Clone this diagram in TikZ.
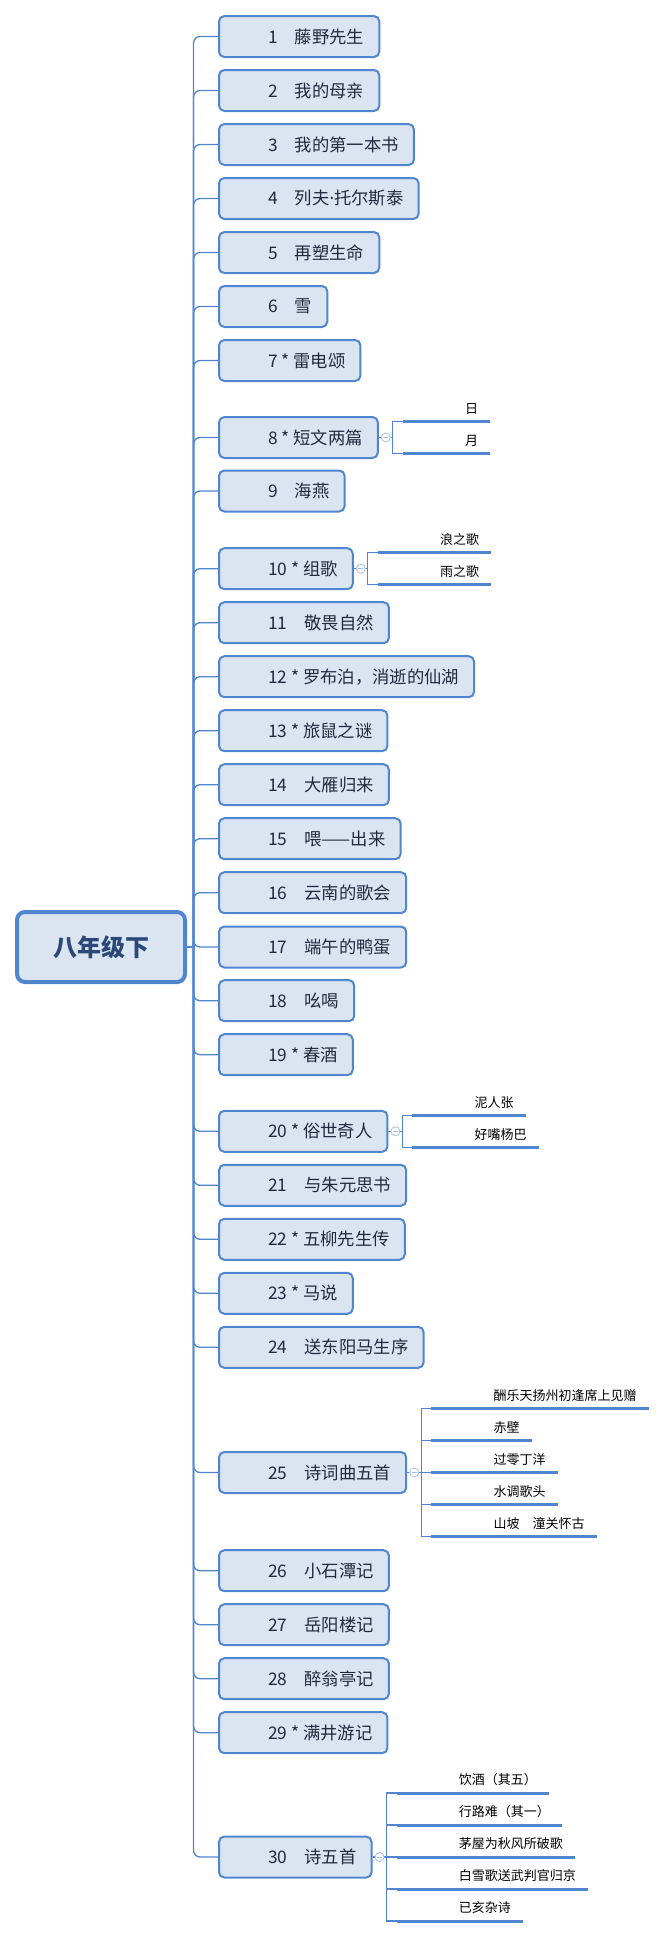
\documentclass[tikz,border=0pt]{standalone}
\usepackage{fontspec}
\setmainfont{Noto Sans CJK SC}
\newfontfamily\latinfont{Noto Sans}

\definecolor{topicline}{RGB}{79,134,207}
\definecolor{topicfill}{RGB}{219,229,242}
\definecolor{topictext}{RGB}{33,43,61}
\definecolor{roottext}{RGB}{42,72,120}
\definecolor{foldline}{RGB}{165,192,230}

\tikzset{
  root/.style={draw=topicline, fill=topicfill, line width=3pt, rounded corners=6pt,
    minimum width=126pt, minimum height=52.5pt, text=roottext,
    font=\fontsize{18}{20}\selectfont\bfseries},
  topic/.style={draw=topicline, fill=topicfill, line width=1.5pt, rounded corners=4pt,
    minimum height=30.75pt, inner xsep=0pt, inner ysep=0pt, anchor=west, text=topictext,
    font=\fontsize{13}{15}\selectfont,
    execute at begin node=\hspace*{36.75pt}, execute at end node=\hspace*{11.25pt}},
  leaf/.style={anchor=south west, inner xsep=0pt, inner ysep=6pt, text depth=0pt,
    font=\fontsize{9.75}{11}\selectfont,
    execute at begin node=\hspace*{46.5pt}, execute at end node=\hspace*{9pt}},
  branch/.style={draw=topicline, line width=1pt, rounded corners=5pt},
  twig/.style={draw=topicline, line width=0.8pt},
  uline/.style={draw=topicline, line width=2.25pt},
  fold/.style={circle, draw=foldline, fill=white, line width=0.6pt, minimum size=6.75pt, inner sep=0pt,
    path picture={\draw[foldline, line width=0.6pt]
      ([xshift=-2pt]path picture bounding box.center) -- ([xshift=2pt]path picture bounding box.center);}}
}

\begin{document}
\begin{tikzpicture}[x=0.75pt, y=-0.75pt]
\useasboundingbox (0,0) rectangle (663,1939);

% root and spine
\node[root] (root) at (101,947) {八年级下};
\coordinate (hub) at (193.5,947);
\draw[branch] (root.east) -- (hub);

% lessons
\foreach \i/\y/\lbl in {
  1/36.5/1\quad 藤野先生, 2/90.5/2\quad 我的母亲, 3/144.5/3\quad 我的第一本书,
  4/198.5/4\quad 列夫{\latinfont ·}托尔斯泰, 5/252.5/5\quad 再塑生命, 6/306.5/6\quad 雪,
  7/360.5/7 * 雷电颂, 8/437.5/8 * 短文两篇, 9/491/9\quad 海燕,
  10/568.7/10 * 组歌, 11/622.7/11\quad 敬畏自然, 12/676.7/12 * 罗布泊，消逝的仙湖,
  13/730.7/13 * 旅鼠之谜, 14/784.7/14\quad 大雁归来, 15/838.7/15\quad 喂——出来,
  16/892.7/16\quad 云南的歌会, 17/947/17\quad 端午的鸭蛋, 18/1000.7/18\quad 吆喝,
  19/1054.7/19 * 春酒, 20/1131.3/20 * 俗世奇人, 21/1185.3/21\quad 与朱元思书,
  22/1239.3/22 * 五柳先生传, 23/1293.3/23 * 马说, 24/1347.3/24\quad 送东阳马生序,
  25/1472.5/25\quad 诗词曲五首, 26/1570.7/26\quad 小石潭记, 27/1624.7/27\quad 岳阳楼记,
  28/1678.7/28\quad 醉翁亭记, 29/1732.7/29 * 满井游记, 30/1857/30\quad 诗五首} {
  \node[topic] (c\i) at (218,\y) {\lbl};
  \draw[branch] (hub) |- (c\i.west);
}

% sub topics
\foreach \lbl [count=\j] in {日, 月} {
  \node[leaf] (s8-\j) at ([shift={({24},{32*\j-48})}]c8.east) {\lbl};
  \draw[twig] (c8.east) -- ++(14,0) |- (s8-\j.south west);
  \draw[uline] (s8-\j.south west) -- (s8-\j.south east);
}
\node[fold] at ([shift={(7,0)}]c8.east) {};

\foreach \lbl [count=\j] in {浪之歌, 雨之歌} {
  \node[leaf] (s10-\j) at ([shift={({24},{32*\j-48})}]c10.east) {\lbl};
  \draw[twig] (c10.east) -- ++(14,0) |- (s10-\j.south west);
  \draw[uline] (s10-\j.south west) -- (s10-\j.south east);
}
\node[fold] at ([shift={(7,0)}]c10.east) {};

\foreach \lbl [count=\j] in {泥人张, 好嘴杨巴} {
  \node[leaf] (s20-\j) at ([shift={({24},{32*\j-48})}]c20.east) {\lbl};
  \draw[twig] (c20.east) -- ++(14,0) |- (s20-\j.south west);
  \draw[uline] (s20-\j.south west) -- (s20-\j.south east);
}
\node[fold] at ([shift={(7,0)}]c20.east) {};

\foreach \lbl [count=\j] in {酬乐天扬州初逢席上见赠, 赤壁, 过零丁洋, 水调歌头, 山坡\quad 潼关怀古} {
  \node[leaf] (s25-\j) at ([shift={({24},{32*\j-96})}]c25.east) {\lbl};
  \draw[twig] (c25.east) -- ++(14,0) |- (s25-\j.south west);
  \draw[uline] (s25-\j.south west) -- (s25-\j.south east);
}
\node[fold] at ([shift={(7,0)}]c25.east) {};

\foreach \lbl [count=\j] in {饮酒（其五）, 行路难（其一）, 茅屋为秋风所破歌, 白雪歌送武判官归京, 已亥杂诗} {
  \node[leaf] (s30-\j) at ([shift={({24},{32*\j-96})}]c30.east) {\lbl};
  \draw[twig] (c30.east) -- ++(14,0) |- (s30-\j.south west);
  \draw[uline] (s30-\j.south west) -- (s30-\j.south east);
}
\node[fold] at ([shift={(7,0)}]c30.east) {};
\end{tikzpicture}
\end{document}
